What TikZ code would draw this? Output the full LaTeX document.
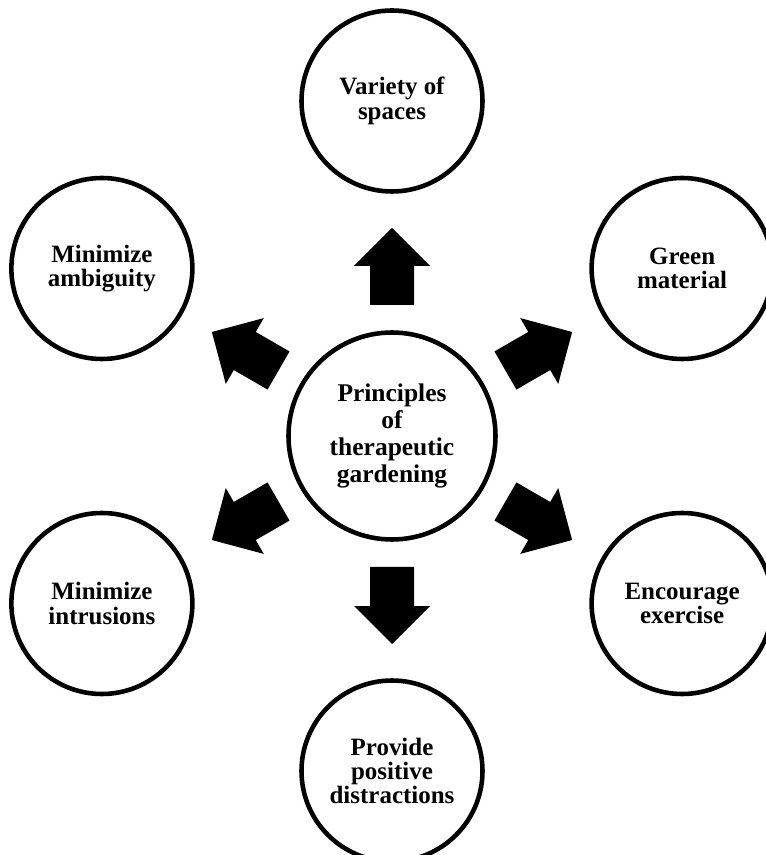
\documentclass[tikz,border=0pt]{standalone}
\usepackage{fontspec}
\setmainfont{Liberation Serif}
\tikzset{
    idea/.style={circle, draw, line width=2.6pt, minimum size=3.62cm, inner sep=0pt,
        align=center, font=\bfseries\fontsize{14.2}{13.8}\selectfont},
    hub/.style={idea, minimum size=4.14cm, font=\bfseries\fontsize{14.5}{15.5}\selectfont}
}
\begin{document}
\begin{tikzpicture}
        \useasboundingbox (-7.84,-8.38) rectangle (7.46,8.72);

        \node[hub] (core) at (0,0) {Principles\\of\\therapeutic\\gardening};

        \node[idea] (spaces)   at (90:6.7)  {Variety of\\spaces};
        \node[idea] (green)    at (30:6.7)  {Green\\material};
        \node[idea] (exercise) at (-30:6.7) {Encourage\\exercise};
        \node[idea] (distract) at (-90:6.7) {Provide\\positive\\distractions};
        \node[idea] (intrude)  at (210:6.7) {Minimize\\intrusions};
        \node[idea] (ambig)    at (150:6.7) {Minimize\\ambiguity};

        \foreach \a in {90,30,-30,-90,210,150}
            \fill[rotate=\a] (2.62,-0.44) -- (3.40,-0.44) -- (3.40,-0.76) -- (4.16,0)
                -- (3.40,0.76) -- (3.40,0.44) -- (2.62,0.44) -- cycle;

    \end{tikzpicture}
\end{document}
